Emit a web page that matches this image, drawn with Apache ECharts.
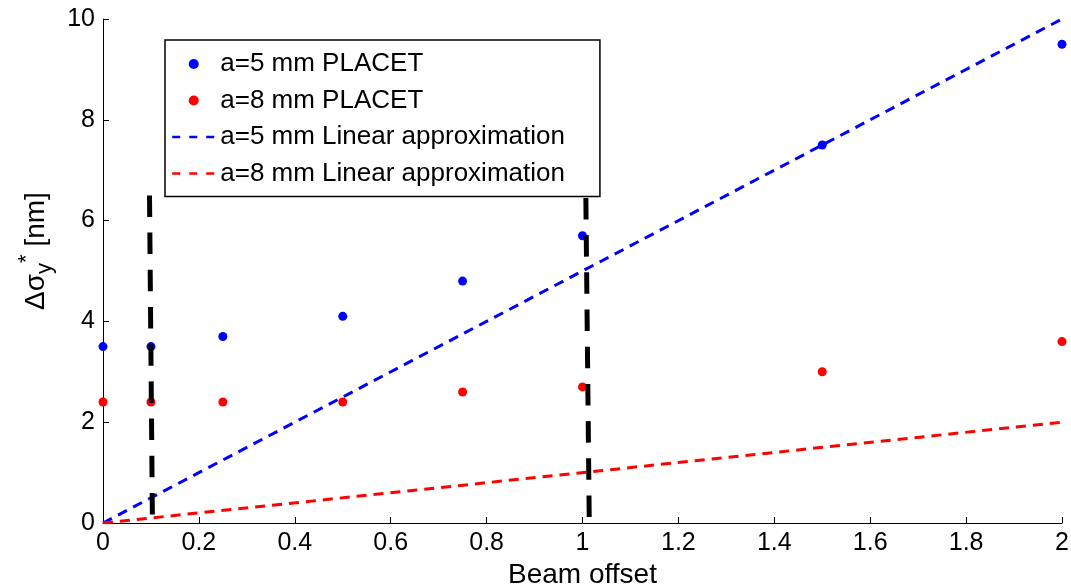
<!DOCTYPE html>
<html>
<head>
<meta charset="UTF-8">
<title>Beam offset</title>
<style>
html, body {
	margin: 0;
	padding: 0;
	width: 100%;
	height: 100%;
	overflow: hidden;
	background: #fff;
}

#main {
	width: 100%;
	height: 100%;
}
</style>
<script src="https://cdn.jsdelivr.net/npm/echarts@6/dist/echarts.min.js"></script>
</head>
<body>
	<div id="main"></div>
	<script>
		// measured points
		var offsets = [ 0, 0.1, 0.25, 0.5, 0.75, 1, 1.5, 2 ];
		var placet5 = [ 3.5, 3.5, 3.7, 4.1, 4.8, 5.7, 7.5, 9.5 ];
		var placet8 = [ 2.4, 2.4, 2.4, 2.4, 2.6, 2.7, 3.0, 3.6 ];

		// linear approximations
		var linX = [ 0, 2 ];
		var lin5 = [ 0, 10 ];
		var lin8 = [ 0, 2 ];

		// black dashed markers, [x, y] top then bottom
		var markA = [ [ 0.097, 6.5 ], [ 0.103, 0.15 ] ];
		var markB = [ [ 1.007, 6.45 ], [ 1.014, 0.1 ] ];

		var names = [ 'a=5 mm PLACET', 'a=8 mm PLACET',
				'a=5 mm Linear approximation', 'a=8 mm Linear approximation' ];

		function pairs(xs, ys) {
			var out = [];
			for (var i = 0; i < xs.length; i++) {
				out.push([ xs[i], ys[i] ]);
			}
			return out;
		}

		var font = '"Liberation Sans", Arial, Helvetica, sans-serif';

		var myChart = echarts.init(document.getElementById('main'));

		// legend line entries: dashed line only, hide the dot
		var legendLine = function(name, color) {
			return {
				name : name,
				itemStyle : {
					color : 'rgba(0,0,0,0)'
				},
				lineStyle : {
					color : color,
					width : 2.5,
					type : [ 8, 9 ]
				}
			};
		};

		var option = {
			backgroundColor : '#fff',
			animation : false,
			textStyle : {
				fontFamily : font,
				color : '#000'
			},
			grid : {
				left : 103,
				right : 9,
				top : 19,
				bottom : 62,
				containLabel : false,
				outerBoundsMode : 'none'
			},
			legend : {
				orient : 'vertical',
				left : 165,
				top : 40,
				padding : [ 11, 35, 10, 6 ],
				itemGap : 10.5,
				itemWidth : 43,
				itemHeight : 10,
				backgroundColor : '#fff',
				borderColor : '#000',
				borderWidth : 1.5,
				borderRadius : 0,
				selectedMode : false,
				data : [ {
					name : names[0]
				}, {
					name : names[1]
				}, legendLine(names[2], '#0000ff'),
						legendLine(names[3], '#ff0000') ],
				textStyle : {
					fontFamily : font,
					fontSize : 26,
					lineHeight : 25,
					color : '#000'
				}
			},
			graphic : [ {
				type : 'text',
				x : 36,
				y : 251,
				rotation : Math.PI / 2,
				style : {
					text : '{a|\u0394\u03c3}{sub|y}{sup|*}{a| [nm]}',
					align : 'center',
					verticalAlign : 'middle',
					fill : '#000',
					rich : {
						a : {
							fontFamily : font,
							fontSize : 28,
							lineHeight : 40,
							verticalAlign : 'middle'
						},
						sub : {
							fontFamily : font,
							fontSize : 22,
							lineHeight : 40,
							verticalAlign : 'bottom'
						},
						sup : {
							fontFamily : font,
							fontSize : 22,
							lineHeight : 40,
							verticalAlign : 'top'
						}
					}
				}
			} ],
			xAxis : {
				type : 'value',
				min : 0,
				max : 2,
				interval : 0.2,
				name : 'Beam offset',
				nameLocation : 'middle',
				nameGap : 34,
				nameTextStyle : {
					fontFamily : font,
					fontSize : 28,
					color : '#000'
				},
				axisLine : {
					lineStyle : {
						color : '#000',
						width : 1
					}
				},
				axisTick : {
					inside : true,
					length : 6,
					lineStyle : {
						color : '#000'
					}
				},
				axisLabel : {
					fontFamily : font,
					fontSize : 25,
					color : '#000',
					margin : 8,
					formatter : function(v) {
						return String(Math.round(v * 10) / 10);
					}
				},
				splitLine : {
					show : false
				}
			},
			yAxis : {
				type : 'value',
				min : 0,
				max : 10,
				interval : 2,
				axisLine : {
					show : true,
					lineStyle : {
						color : '#000',
						width : 1
					}
				},
				axisTick : {
					show : true,
					inside : true,
					length : 6,
					lineStyle : {
						color : '#000'
					}
				},
				axisLabel : {
					fontFamily : font,
					fontSize : 25,
					color : '#000',
					margin : 8
				},
				splitLine : {
					show : false
				}
			},
			series : [ {
				name : names[0],
				type : 'scatter',
				symbol : 'circle',
				symbolSize : 9,
				itemStyle : {
					color : '#0000ff',
					opacity : 1
				},
				data : pairs(offsets, placet5),
				z : 2
			}, {
				name : names[1],
				type : 'scatter',
				symbol : 'circle',
				symbolSize : 9,
				itemStyle : {
					color : '#ff0000',
					opacity : 1
				},
				data : pairs(offsets, placet8),
				z : 2
			}, {
				name : names[2],
				type : 'line',
				symbol : 'none',
				itemStyle : {
					color : '#0000ff'
				},
				lineStyle : {
					color : '#0000ff',
					width : 3,
					type : [ 10, 7 ]
				},
				data : pairs(linX, lin5),
				z : 3
			}, {
				name : names[3],
				type : 'line',
				symbol : 'none',
				itemStyle : {
					color : '#ff0000'
				},
				lineStyle : {
					color : '#ff0000',
					width : 3,
					type : [ 10, 7 ]
				},
				data : pairs(linX, lin8),
				z : 3
			}, {
				name : 'markA',
				type : 'line',
				symbol : 'none',
				silent : true,
				lineStyle : {
					color : '#000',
					width : 5,
					type : [ 21.5, 15.7 ]
				},
				data : markA,
				z : 4
			}, {
				name : 'markB',
				type : 'line',
				symbol : 'none',
				silent : true,
				lineStyle : {
					color : '#000',
					width : 5,
					type : [ 21.5, 15.7 ]
				},
				data : markB,
				z : 4
			} ]
		};
		myChart.setOption(option);
	</script>
</body>
</html>
